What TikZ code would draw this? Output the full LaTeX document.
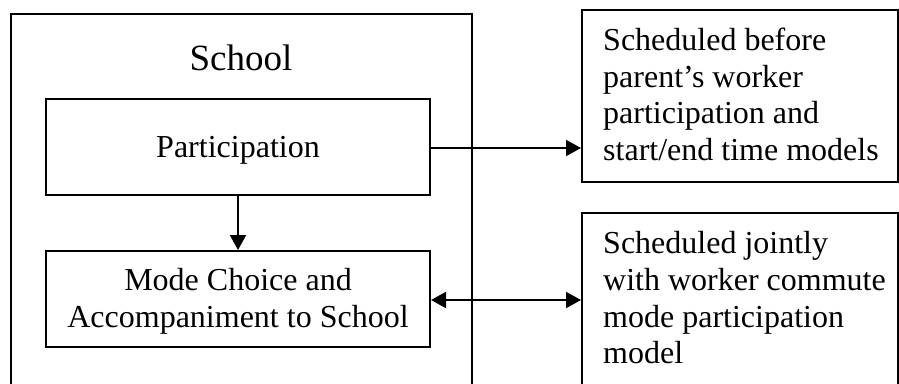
\documentclass[tikz,border=0pt]{standalone}
\usepackage{fontspec}
\setmainfont{Liberation Serif}
\usetikzlibrary{arrows.meta}
\begin{document}
\begin{tikzpicture}[x=1pt,y=-1pt,
  box/.style={draw,line width=2pt,rectangle,inner sep=0pt},
  txt/.style={font=\fontsize{32}{36.7}\selectfont,inner sep=0pt},
  conn/.style={line width=2pt,-{Triangle[length=15pt,width=16pt]}},
  conn2/.style={line width=2pt,{Triangle[length=15pt,width=16pt]}-{Triangle[length=15pt,width=16pt]}}]
\useasboundingbox (0,0) rectangle (899,383);
\clip (0,0) rectangle (899,383);
% outer school box
\node[box,minimum width=461pt,minimum height=406pt] (school) at (241.5,217) {};
\node[txt,font=\fontsize{37}{40}\selectfont,anchor=base] (schooltitle) at (241,70) {School};
% participation
\node[box,minimum width=384pt,minimum height=96pt] (part) at (238,147) {};
\node[txt,anchor=base] (parttxt) at (238,157) {Participation};
% mode choice
\node[box,minimum width=384pt,minimum height=96pt] (mode) at (238,299) {};
\node[txt,anchor=base,align=center] (modetxt1) at (238,290) {Mode Choice and};
\node[txt,anchor=base,align=center] (modetxt2) at (238,327) {Accompaniment to School};
% right boxes
\node[box,minimum width=316pt,minimum height=172pt] (r1) at (740,96) {};
\node[txt,anchor=base west] (r1a) at (603,50) {Scheduled before};
\node[txt,anchor=base west] (r1b) at (603,87) {parent’s worker};
\node[txt,anchor=base west] (r1c) at (603,123) {participation and};
\node[txt,anchor=base west] (r1d) at (603,160) {start/end time models};
\node[box,minimum width=316pt,minimum height=210pt] (r2) at (740,318) {};
\node[txt,anchor=base west] (r2a) at (603,253) {Scheduled jointly};
\node[txt,anchor=base west] (r2b) at (603,290) {with worker commute};
\node[txt,anchor=base west] (r2c) at (603,327) {mode participation};
\node[txt,anchor=base west] (r2d) at (603,363) {model};
% connectors
\draw[conn] (part.south) -- (mode.north);
\draw[conn] ([yshift=-1pt]part.east) -- ([yshift=-1pt]part.east -| r1.west);
\draw[conn2] ([yshift=-1pt]mode.east) -- ([yshift=-1pt]mode.east -| r2.west);
\end{tikzpicture}
\end{document}
